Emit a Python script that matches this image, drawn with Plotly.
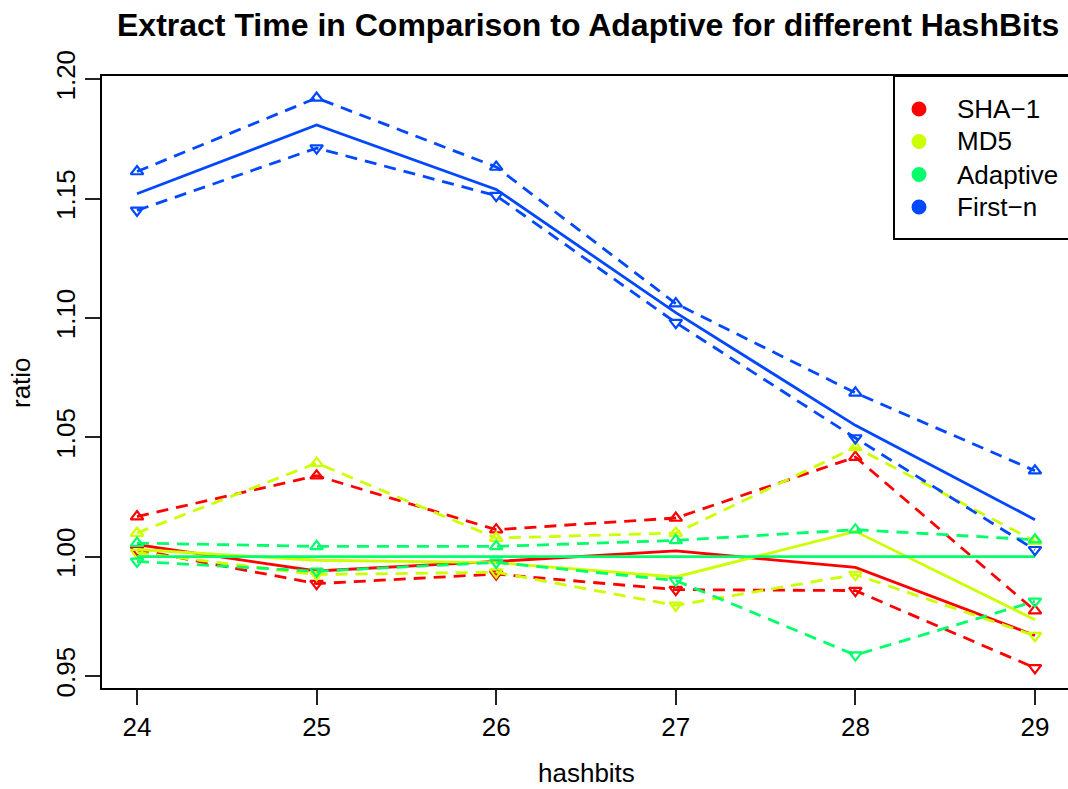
import plotly.graph_objects as go

# ---------------- data ----------------
hashbits = [24, 25, 26, 27, 28, 29]
series_names = ["SHA\u22121", "MD5", "Adaptive", "First\u2212n"]
series_colors = ["#FF0000", "#CCFF00", "#00FF6A", "#0048FF"]

sha1_mean = [1.005, 0.994, 0.998, 1.0024, 0.9955, 0.967]
sha1_upper = [1.0168, 1.0339, 1.0113, 1.0162, 1.0417, 0.9774]
sha1_lower = [1.0029, 0.9887, 0.9927, 0.9862, 0.9858, 0.9534]

md5_mean = [1.003, 0.9985, 0.9975, 0.9915, 1.0106, 0.9736]
md5_upper = [1.0099, 1.0392, 1.0078, 1.0099, 1.0458, 1.0065]
md5_lower = [1.0017, 0.9925, 0.9935, 0.9796, 0.9925, 0.9669]

adaptive_mean = [1.0, 1.0, 1.0, 1.0, 1.0, 1.0]
adaptive_upper = [1.0057, 1.0043, 1.0043, 1.0068, 1.0113, 1.0071]
adaptive_lower = [0.998, 0.9939, 0.9976, 0.990, 0.9588, 0.9813]

firstn_mean = [1.152, 1.1808, 1.1538, 1.1022, 1.0550, 1.0155]
firstn_upper = [1.1613, 1.1921, 1.1632, 1.106, 1.0686, 1.036]
firstn_lower = [1.145, 1.1711, 1.1512, 1.098, 1.0497, 1.0029]

y_ticks = [0.95, 1.00, 1.05, 1.10, 1.15, 1.20]
y_tick_labels = ["0.95", "1.00", "1.05", "1.10", "1.15", "1.20"]

title_text = "Extract Time in Comparison to Adaptive for different HashBits"
x_title = "hashbits"
y_title = "ratio"

# ---------------- figure ----------------
W, H = 1068, 789
L, R, T, B = 102, 0, 76, 101
FONT = "Liberation Sans, Arial, Helvetica, sans-serif"

fig = go.Figure()

groups = [
    (sha1_mean, sha1_upper, sha1_lower),
    (md5_mean, md5_upper, md5_lower),
    (adaptive_mean, adaptive_upper, adaptive_lower),
    (firstn_mean, firstn_upper, firstn_lower),
]

for (mean, up, lo), name, col in zip(groups, series_names, series_colors):
    fig.add_trace(go.Scatter(
        x=hashbits, y=up, mode="lines+markers", showlegend=False,
        line=dict(color=col, width=2.8, dash="12px,8px"),
        marker=dict(symbol="triangle-up-open", size=11, color=col, line=dict(width=2.2, color=col)),
        hoverinfo="skip"))
    fig.add_trace(go.Scatter(
        x=hashbits, y=lo, mode="lines+markers", showlegend=False,
        line=dict(color=col, width=2.8, dash="12px,8px"),
        marker=dict(symbol="triangle-down-open", size=11, color=col, line=dict(width=2.2, color=col)),
        hoverinfo="skip"))
    fig.add_trace(go.Scatter(
        x=hashbits, y=mean, mode="lines", name=name, showlegend=False,
        line=dict(color=col, width=2.8)))

pw = W - L - R
ph = H - T - B

def px_x(p):
    return (p - L) / pw

def px_y(p):
    return 1 - (p - T) / ph

# legend (manual, box runs off the right edge like the reference)
shapes = [dict(type="rect", xref="paper", yref="paper",
               x0=px_x(894), x1=px_x(1090), y0=px_y(239), y1=px_y(76),
               line=dict(color="black", width=2), fillcolor="white", layer="above")]
annotations = []
row_y = [109, 141.5, 174.5, 207]
for name, col, ry in zip(series_names, series_colors, row_y):
    shapes.append(dict(type="circle", xref="paper", yref="paper",
                       xsizemode="pixel", ysizemode="pixel",
                       xanchor=px_x(919), yanchor=px_y(ry),
                       x0=-7.5, x1=7.5, y0=-7.5, y1=7.5,
                       fillcolor=col, line=dict(width=0), layer="above"))
    annotations.append(dict(x=px_x(955), y=px_y(ry), xref="paper", yref="paper",
                            text=name, showarrow=False, xanchor="left", yanchor="middle",
                            font=dict(size=26, color="black", family=FONT)))

annotations.append(dict(x=px_x(588), y=px_y(25), xref="paper", yref="paper",
                        text="<b>" + title_text + "</b>", showarrow=False,
                        xanchor="center", yanchor="middle",
                        font=dict(size=32, color="black", family=FONT)))
annotations.append(dict(x=px_x(586), y=px_y(773), xref="paper", yref="paper",
                        text=x_title, showarrow=False, xanchor="center", yanchor="middle",
                        font=dict(size=26, color="black", family=FONT)))
annotations.append(dict(x=px_x(21), y=px_y(383), xref="paper", yref="paper",
                        text=y_title, showarrow=False, xanchor="center", yanchor="middle",
                        textangle=-90,
                        font=dict(size=26, color="black", family=FONT)))

fig.update_layout(
    width=W, height=H,
    margin=dict(l=L, r=R, t=T, b=B, pad=0),
    paper_bgcolor="white", plot_bgcolor="white",
    font=dict(family=FONT, size=26, color="black"),
    shapes=shapes, annotations=annotations,
    showlegend=False,
)
fig.update_xaxes(
    range=[23.805, 29.184], tickvals=hashbits, ticktext=[str(h) for h in hashbits],
    showgrid=False, zeroline=False, showline=True, mirror=True,
    linecolor="black", linewidth=2, ticks="outside", ticklen=15, tickwidth=1.5,
    tickcolor="#222", tickfont=dict(size=26, family=FONT),
)
fig.update_yaxes(
    range=[0.945, 1.2013], tickvals=y_ticks, ticktext=y_tick_labels,
    showgrid=False, zeroline=False, showline=True, mirror=False,
    linecolor="black", linewidth=2, ticks="outside", ticklen=15, tickwidth=1.5,
    tickcolor="#222", tickangle=-90, tickfont=dict(size=26, family=FONT),
)

fig.write_html(
    "out.html",
    config={"displayModeBar": False},
    post_script="document.body.style.margin='0';document.body.style.overflow='hidden';",
)
